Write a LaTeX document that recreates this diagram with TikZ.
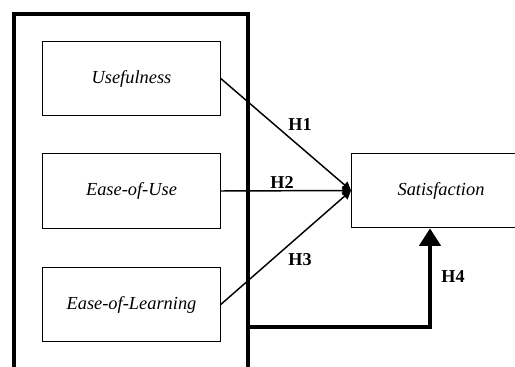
\documentclass[tikz,border=0pt]{standalone}
\usepackage{fontspec}
\setmainfont{Liberation Serif}
\usetikzlibrary{arrows.meta}

\tikzset{
    factor/.style={draw, line width=0.9pt, minimum width=133pt, minimum height=56pt, inner sep=0pt, font=\fontsize{13.8}{15}\selectfont\itshape},
    hyp/.style={font=\fontsize{13.6}{15}\selectfont\bfseries},
    link/.style={line width=1.1pt, -{Triangle[length=6.5pt,width=6.5pt]}}
}

\begin{document}
\begin{tikzpicture}[x=0.75pt, y=-0.75pt]
    \clip (0,0) rectangle (515,367);
    % outer frame, open at the bottom
    \draw[line width=2.3pt] (14,367) -- (14,14) -- (248,14) -- (248,367);
    \node[factor] (useful) at (131.5,78.5) {Usefulness};
    \node[factor] (easeuse) at (131.5,191) {Ease-of-Use};
    \node[factor] (easelearn) at (131.5,304.5) {Ease-of-Learning};
    \node[factor, minimum width=134pt] (satis) at (441,190.5) {Satisfaction};
    \coordinate (tip) at (satis.west);
    \draw[link] (useful.east) -- (tip);
    \draw[link] (easeuse.east) -- (tip);
    \draw[link] (easelearn.east) -- (tip);
    \node[hyp] (h1) at (300,125) {H1};
    \node[hyp] (h2) at (282,182) {H2};
    \node[hyp] (h3) at (300,260) {H3};
    \node[hyp] (h4) at (453,277) {H4};
    %\node[hyp] at (441,300) {H5};
    \coordinate (frameout) at (248,327);
    \draw[line width=2.3pt, -{Triangle[length=13pt,width=16pt]}] (frameout) -| ([xshift=-8.25pt]satis.south);
\end{tikzpicture}
\end{document}
